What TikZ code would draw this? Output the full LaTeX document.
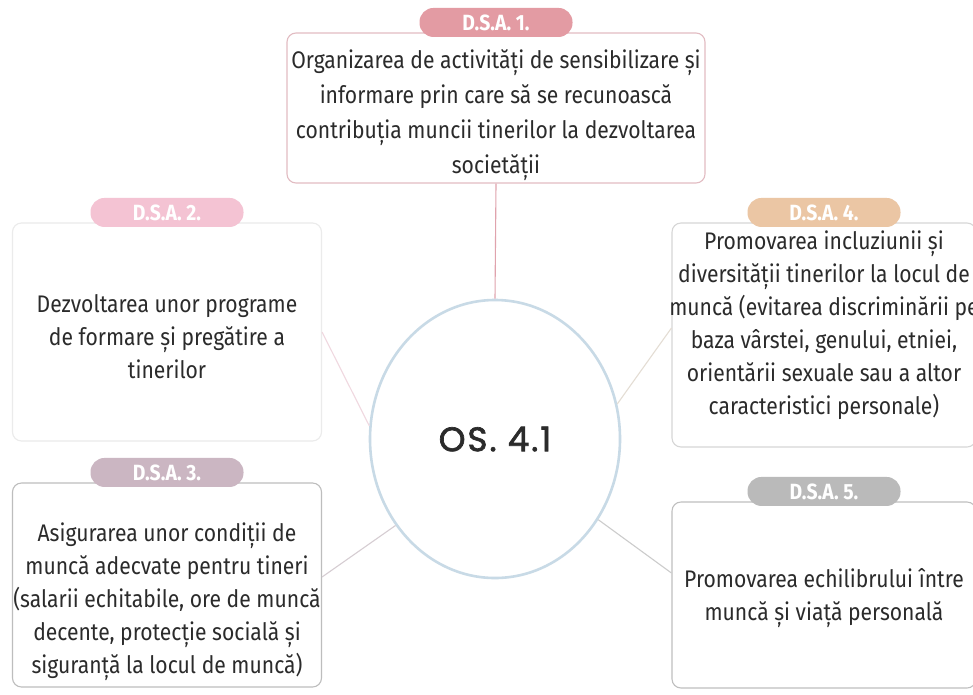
\documentclass[tikz,border=0pt]{standalone}
\usepackage{fontspec}
\setmainfont{Fira Sans}[FakeStretch=0.88]
\newfontfamily\osfont{Poppins}[LetterSpace=6,FakeBold=2]
\usetikzlibrary{shapes.geometric,positioning,calc}
\definecolor{TXT}{HTML}{2B2B2B}
\definecolor{CIRC}{HTML}{C8DAE6}
\definecolor{P1}{HTML}{E39BA3}
\definecolor{P2}{HTML}{F4C3D3}
\definecolor{P3}{HTML}{CBB6C2}
\definecolor{P4}{HTML}{EBC6A4}
\definecolor{P5}{HTML}{BABABA}
\definecolor{B1}{HTML}{E2BCC2}
\definecolor{B2}{HTML}{EBEBEB}
\definecolor{B3}{HTML}{BDBDBD}
\definecolor{B4}{HTML}{D6D6D6}
\definecolor{B5}{HTML}{BFBFBF}
\definecolor{L1}{HTML}{E0A3AD}
\definecolor{L2}{HTML}{F0D8E0}
\definecolor{L3}{HTML}{D6CDD2}
\definecolor{L4}{HTML}{E4DDD4}
\definecolor{L5}{HTML}{CCCCCC}

\begin{document}
\begin{tikzpicture}[x=1pt,y=-1pt,
    dsabox/.style={draw=#1, line width=1.1pt, rounded corners=9pt, fill=white, inner sep=0pt},
    dsatag/.style={fill=#1, text=white, rounded corners=14pt, minimum width=153pt,
                   minimum height=29pt, inner sep=0pt, font=\fontsize{22}{22}\selectfont\bfseries},
    dsatext/.style={align=center, text=TXT, inner sep=0pt, font=\fontsize{24}{33}\selectfont},
    link/.style={draw=#1, line width=1.1pt}]
  \useasboundingbox[fill=white] (0,0) rectangle (973,694);

  % centre
  \node[ellipse, draw=CIRC, line width=2.6pt, fill=white, minimum width=250pt,
        minimum height=278pt, inner sep=0pt, text=TXT,
        font=\osfont\fontsize{34}{34}\selectfont] (os) at (495,439) {OS. 4.1};

  % boxes
  \node[dsabox=B1, minimum width=418pt, minimum height=150pt] (dsa1) at (496,108) {};
  \node[dsabox=B2, minimum width=309pt, minimum height=218pt] (dsa2) at (167,332) {};
  \node[dsabox=B3, minimum width=309pt, minimum height=204pt] (dsa3) at (167,585) {};
  \node[dsabox=B4, minimum width=304pt, minimum height=224pt] (dsa4) at (824,335) {};
  \node[dsabox=B5, minimum width=304pt, minimum height=186pt] (dsa5) at (824,595) {};

  \node[dsatext, font=\fontsize{24}{35}\selectfont] (dsa1txt) at ([yshift=-7pt]dsa1.center)
    {Organizarea de activități de sensibilizare și\\informare prin care să se recunoască\\contribuția muncii tinerilor la dezvoltarea\\societății};
  \node[dsatext] (dsa2txt) at ([yshift=-5pt]dsa2.center)
    {Dezvoltarea unor programe\\de formare și pregătire a\\tinerilor};
  \node[dsatext] (dsa3txt) at ([yshift=-17pt]dsa3.center)
    {Asigurarea unor condiții de\\muncă adecvate pentru tineri\\(salarii echitabile, ore de muncă\\decente, protecție socială și\\siguranță la locul de muncă)};
  \node[dsatext] (dsa4txt) at ([yshift=10pt]dsa4.center)
    {Promovarea incluziunii și\\diversității tinerilor la locul de\\muncă (evitarea discriminării pe\\baza vârstei, genului, etniei,\\orientării sexuale sau a altor\\caracteristici personale)};
  \node[dsatext] (dsa5txt) at ([yshift=-3pt]dsa5.center)
    {Promovarea echilibrului între\\muncă și viață personală};

  % tags
  \node[dsatag=P1] (dsa1tag) at ([yshift=10pt]dsa1.north) {D.S.A. 1.};
  \node[dsatag=P2] (dsa2tag) at ([yshift=10pt]dsa2.north) {D.S.A. 2.};
  \node[dsatag=P3] (dsa3tag) at ([yshift=10pt]dsa3.north) {D.S.A. 3.};
  \node[dsatag=P4] (dsa4tag) at ([yshift=10pt]dsa4.north) {D.S.A. 4.};
  \node[dsatag=P5] (dsa5tag) at ([yshift=10pt]dsa5.north) {D.S.A. 5.};

  % links
  \draw[link=L1] (dsa1.south) -- (os.north);
  \draw[link=L2] (dsa2.east) -- (os.174);
  \draw[link=L3] ([yshift=8pt]dsa3.east) -- (os.221);
  \draw[link=L4] (os.16) -- ([yshift=7pt]dsa4.west);
  \draw[link=L5] (os.322) -- ([yshift=22pt]dsa5.west);
\end{tikzpicture}
\end{document}
